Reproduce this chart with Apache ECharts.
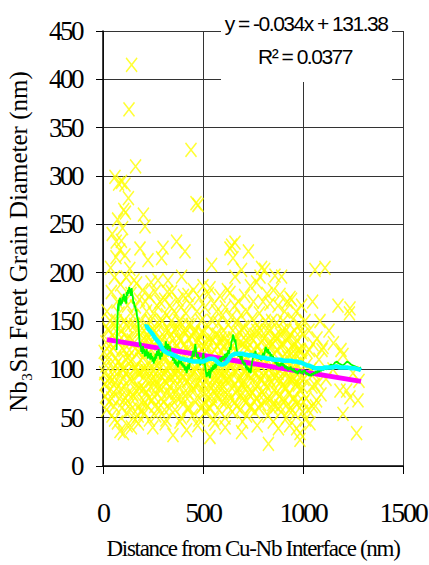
<!DOCTYPE html>
<html>
<head>
<meta charset="utf-8">
<script src="https://cdn.jsdelivr.net/npm/echarts@6/dist/echarts.min.js"></script>
<style>
  html, body { margin: 0; padding: 0; background: #fff; }
  #chart { width: 429px; height: 565px; }
  /* tight, condensed lettering for every label */
  #chart text { letter-spacing: -1.5px; }
  #chart text[style*="28px"] { letter-spacing: -2.2px; }
  #chart text[style*="27px"] { letter-spacing: -2.5px; }
  #chart text[style*="23px"] { letter-spacing: -1.3px; }
  #chart text[style*="25px"] { letter-spacing: 0px; }
</style>
</head>
<body>
<div id="chart"></div>
<script>
// Axis ranges (nm)
const xAxisMin = 0, xAxisMax = 1500, xAxisStep = 500;
const yAxisMin = 0, yAxisMax = 450, yAxisStep = 50;

// Linear fit of grain size vs. distance
const trendSlope = -0.034;
const trendIntercept = 131.38;
const trendR2 = 0.0377;
const trendRange = [20, 1290];

// Individual grains: [distance from interface (nm), Feret diameter (nm)]
const grainPoints = [
  [8,96],[12,72],[15,128],[18,58],[22,110],[25,142],[10,85],[20,160],
  [30,66],[33,118],[36,150],[40,88],[42,180],[45,52],[48,135],[50,100],[38,205],[46,240],[32,78],
  [55,62],[57,195],[60,299],[62,145],[64,112],[66,232],[68,80],[70,170],[72,45],[74,128],[58,92],[73,255],[65,216],
  [78,292],[80,158],[82,70],[84,223],[86,104],[88,188],[90,140],[92,233],[94,60],[96,122],[98,246],[100,90],[85,36],[99,175],[93,294],
  [102,34],[104,265],[106,150],[108,82],[110,218],[112,262],[114,110],[116,195],[118,55],[120,132],[122,166],[124,98],[110,291],[125,75],
  [127,277],[130,369],[132,120],[134,204],[136,64],[138,146],[140,178],[143,415],[145,88],[147,110],[150,155],[142,40],
  [152,72],[155,192],[157,128],[160,48],[163,310],[165,102],[168,189],[170,140],[172,84],[175,60],[162,165],
  [177,44],[180,118],[182,172],[185,225],[187,96],[190,150],[192,66],[195,130],[198,182],[200,80],[188,110],
  [202,260],[204,54],[206,140],[208,100],[210,248],[212,170],[214,76],[216,120],[218,160],[220,90],[222,62],[225,213],
  [227,132],[230,176],[232,48],[234,106],[236,150],[238,82],[240,190],[242,120],[245,68],[247,142],[250,98],
  [252,158],[255,72],[257,125],[260,180],[262,90],[264,52],[266,138],[268,110],[270,166],[272,84],[275,192],
  [278,60],[280,146],[282,100],[285,170],[287,78],[290,128],[293,215],[295,92],[297,150],[300,226],[299,116],
  [302,66],[305,134],[308,172],[310,88],[312,112],[315,48],[318,156],[320,100],[322,180],[325,192],[324,76],
  [327,140],[330,92],[332,60],[335,166],[337,118],[340,74],[342,150],[343,180],[345,104],[348,130],[350,32],
  [352,86],[355,160],[358,112],[360,58],[362,142],[365,96],[368,232],[370,124],[372,70],[375,172],
  [377,104],[380,150],[382,82],[385,46],[387,130],[390,164],[393,196],[395,92],[398,118],[400,64],
  [402,176],[405,140],[408,100],[410,222],[412,72],[415,158],[418,37],[420,120],[422,88],[425,177],
  [427,132],[430,60],[432,106],[435,168],[437,84],[440,327],[442,146],[445,96],[447,52],[450,124],
  [452,182],[455,78],[457,112],[460,140],[462,66],[465,272],[467,100],[470,160],[472,86],[475,270],
  [477,130],[480,48],[482,174],[485,108],[487,76],[490,150],[492,94],[495,120],[498,62],[500,186],
  [502,138],[505,84],[508,102],[510,164],[512,56],[515,126],[518,90],[520,146],[522,70],[525,112],
  [527,178],[530,96],[532,60],[535,184],[535,30],[537,132],[540,80],[543,208],[545,116],[548,150],[550,66],
  [552,102],[555,168],[558,86],[560,44],[562,136],[565,110],[568,160],[570,74],[572,124],[575,92],
  [577,148],[580,58],[582,104],[585,176],[587,82],[590,132],[592,118],[595,66],[598,156],[600,96],
  [602,140],[605,74],[608,112],[610,50],[612,164],[615,88],[618,128],[620,100],[622,182],[625,62],
  [627,146],[630,92],[632,116],[635,179],[635,225],[637,70],[640,154],[643,228],[645,104],[647,56],[650,215],
  [652,132],[655,84],[658,166],[660,196],[660,231],[662,98],[665,120],[668,62],[670,150],[672,78],[675,108],
  [677,170],[680,90],[682,138],[685,58],[687,112],[690,156],[693,203],[693,35],[695,76],[698,126],[700,98],
  [702,144],[705,68],[708,176],[710,110],[712,84],[715,130],[718,52],[720,160],[722,96],[725,122],
  [727,222],[730,74],[732,140],[735,104],[737,186],[740,62],[742,118],[745,152],[747,88],[750,130],
  [752,170],[755,96],[758,56],[760,136],[762,80],[765,112],[768,190],[770,70],[772,146],[775,100],
  [777,124],[780,60],[782,158],[785,196],[787,90],[790,140],[793,205],[795,76],[798,116],[800,170],
  [802,94],[805,132],[808,203],[810,66],[812,150],[815,108],[818,82],[820,178],[822,120],[825,52],[827,23],
  [830,140],[833,90],[835,168],[838,70],[840,112],[843,150],[845,60],[848,126],[850,98],
  [852,182],[855,78],[858,134],[860,197],[862,104],[865,62],[868,148],[870,88],[872,120],[875,166],[877,39],
  [880,100],[883,72],[885,177],[888,136],[890,56],[893,196],[895,112],[898,84],[900,150],
  [902,126],[905,66],[908,160],[910,98],[912,80],[915,140],[918,50],[920,118],[922,170],[925,90],
  [928,134],[930,74],[935,174],[938,106],[940,60],[943,172],[945,124],[948,88],[950,152],
  [952,100],[955,70],[958,140],[960,54],[962,116],[965,160],[968,39],[968,86],[970,130],[975,104],
  [978,66],[980,146],[982,92],[985,34],[985,27],[987,120],[990,78],[993,166],[995,108],[998,56],[1000,136],
  [1005,90],[1010,150],[1015,70],[1020,118],[1025,58],[1030,140],[1035,44],[1040,100],[1045,82],[1050,126],[1048,170],
  [1055,96],[1060,203],[1062,62],[1068,68],[1070,132],[1075,86],[1080,110],[1085,150],[1090,74],[1095,120],[1100,123],
  [1110,205],[1115,90],[1130,140],[1150,100],[1152,127],[1175,166],[1185,78],[1190,120],[1200,115],[1200,54],
  [1218,78],[1232,158],[1235,163],[1235,71],[1250,96],[1268,34],[1275,68],[1280,88],
  [15,104],[28,140],[35,92],[44,70],[52,122],[60,86],[67,150],[76,108],[83,130],[91,80],[97,100],
  [105,120],[113,70],[119,145],[126,112],[133,90],[139,58],[146,130],[153,100],[158,146],[166,78],
  [173,118],[179,96],[186,140],[193,58],[199,112],[205,80],[211,130],[217,98],[223,145],[229,70],
  [235,126],[241,88],[248,112],[254,140],[259,62],[265,96],[271,130],[276,106],[283,82],[288,152],
  [294,120],[301,96],[307,58],[313,140],[319,124],[326,104],[333,82],[339,136],[346,92],[353,120],
  [359,140],[364,76],[371,100],[378,132],[384,108],[391,72],[397,146],[403,92],[409,126],[416,104],
  [423,60],[429,146],[436,116],[443,78],[449,100],[456,138],[463,120],[469,84],[476,104],[483,136],
  [489,60],[496,96],[503,124],[509,76],[516,106],[523,132],[529,84],[536,60],[542,100],[549,130],
  [556,120],[563,80],[569,98],[576,70],[583,128],[589,86],[596,110],[603,92],[609,132],[616,68],
  [623,106],[629,76],[636,126],[642,90],[649,140],[656,108],[663,76],[669,130],[676,88],[683,104],
  [689,72],[696,140],[703,88],[709,124],[716,66],[723,110],[729,94],[736,60],[743,100],[749,76],
  [756,120],[763,96],[769,140],[776,84],[783,106],[789,64],[796,130],[803,110],[809,86],[816,140],
  [823,70],[829,100],[836,124],[843,86],[849,64],[856,116],[863,134],[869,76],[876,96],[883,124],
  [889,88],[896,140],[903,70],[909,110],[916,96],[923,130],[929,58],[936,90],[943,116],[949,70],
  [956,124],[963,84],[969,64],[976,120],[983,98],[989,140],[996,82],
  [6,118],[24,88],[39,126],[53,76],[63,104],[79,136],[89,96],[103,68],[115,96],[128,132],[137,108],
  [149,74],[161,122],[171,98],[183,80],[196,100],[209,66],[219,136],[231,98],[244,128],[256,84],
  [269,104],[281,120],[292,70],[304,112],[316,86],[328,124],[338,102],[349,68],[361,94],[373,144],
  [386,88],[399,104],[411,138],[421,76],[433,90],[446,134],[458,98],[471,128],[484,88],[494,138],
  [506,64],[519,120],[531,102],[544,72],[557,92],[571,136],[584,98],[597,80],[606,124],[619,90],
  [633,104],[646,124],[659,66],[673,100],[686,128],[699,84],[711,98],[724,76],[738,134],[751,104],
  [764,70],[778,92],[791,118],[804,74],[817,96],[831,128],[844,104],[857,92],[871,132],[884,62],
  [897,102],[911,82],[924,112],[937,136],[951,92],[964,106],[977,84],[991,118],[1003,66],[1017,104],
  [1032,120],[1046,62],[1058,84],
  [58,48],[121,42],[176,52],[249,40],[311,44],[392,50],[474,42],[553,48],[611,40],[698,46],
  [771,42],[851,46],[933,42],[1012,48]
];

// Short-window running average (green)
const shortAverage = [
  [68,120],[70,135],[72,150],[74,162],[76,168],[78,160],[80,172],[83,170],[86,174],[89,166],[92,171],[95,168],
  [98,175],[101,172],[104,178],[107,170],[110,173],[113,176],[116,168],[119,180],[122,176],[125,182],[128,178],
  [131,185],[134,180],[137,183],[140,176],[143,184],[146,178],[149,175],[152,168],[155,170],[158,164],[161,166],
  [164,160],[167,162],[170,155],[173,152],[176,150],[179,140],[182,130],[185,124],[188,128],[191,118],[194,122],
  [197,116],[200,124],[203,118],[206,121],[209,113],[212,119],[215,114],[218,121],[221,116],[224,111],[227,118],
  [230,112],[233,116],[236,110],[239,117],[242,111],[245,114],[248,108],[251,112],[254,106],[257,113],[260,109],
  [263,116],[266,111],[270,119],[274,114],[278,121],[282,115],[286,110],[290,117],[294,113],[298,120],[302,118],
  [306,124],[310,121],[314,129],[318,125],[322,120],[326,126],[330,121],[334,124],[338,117],[342,112],[346,116],
  [350,109],[354,113],[358,106],[362,110],[366,104],[370,108],[374,102],[378,107],[382,111],[386,106],[390,109],
  [394,104],[398,107],[402,102],[406,105],[410,99],[414,103],[418,96],[422,101],[426,105],[430,100],[434,108],
  [438,112],[442,107],[446,114],[450,119],[454,113],[458,121],[462,126],[466,118],[470,112],[474,116],[478,109],
  [482,113],[486,104],[490,110],[494,106],[498,112],[502,117],[506,111],[510,104],[514,98],[518,92],[522,97],
  [526,93],[530,99],[534,91],[538,96],[542,102],[546,98],[550,104],[554,100],[558,106],[562,101],[566,103],
  [570,108],[574,104],[578,110],[582,106],[586,112],[590,107],[594,113],[598,109],[602,114],[606,110],[610,116],
  [614,112],[618,117],[622,113],[626,120],[630,116],[634,123],[638,120],[642,128],[646,131],[650,136],[654,133],
  [658,128],[662,131],[666,123],[670,119],[674,116],[678,113],[682,117],[686,112],[690,110],[694,114],[698,106],
  [702,109],[706,104],[710,107],[714,101],[718,104],[722,99],[726,102],[730,97],[734,101],[738,96],[742,103],
  [746,108],[750,112],[754,117],[758,114],[762,119],[766,113],[770,116],[774,111],[778,114],[782,110],[786,113],
  [790,109],[794,112],[798,115],[802,117],[806,113],[810,120],[814,123],[818,120],[822,117],[826,121],[830,116],
  [834,118],[838,113],[842,116],[846,111],[850,114],[854,109],[858,112],[862,106],[866,109],[870,104],[874,107],
  [878,103],[882,106],[886,103],[890,107],[894,104],[898,107],[902,103],[906,105],[910,101],[914,104],[918,100],
  [922,103],[926,99],[930,102],[934,100],[938,103],[942,99],[946,101],[950,98],[954,101],[958,97],[962,99],
  [966,96],[970,98],[974,95],[978,99],[982,97],[986,100],[990,96],[994,98],[998,95],[1002,99],[1006,97],
  [1010,99],[1014,95],[1018,97],[1022,94],[1026,96],[1030,93],[1035,95],[1040,93],[1045,96],[1050,94],[1055,97],
  [1060,95],[1065,98],[1070,96],[1075,99],[1080,97],[1085,100],[1090,98],[1095,101],[1100,99],[1110,101],
  [1120,100],[1130,103],[1140,105],[1150,104],[1160,107],[1170,108],[1180,106],[1190,105],[1200,104],[1210,106],
  [1220,108],[1230,107],[1240,105],[1250,104],[1260,103],[1270,102],[1280,101],[1290,102]
];

// Long-window running average (cyan)
const longAverage = [
  [210,144],[218,145],[226,142],[234,140],[242,138],[250,136],[258,133],[266,131],[274,129],[282,127],[290,124],
  [298,121],[306,119],[314,118],[322,117],[330,116],[340,116],[350,115],[360,114],[370,113],[380,112],[390,111],
  [400,111],[410,110],[420,110],[430,109],[440,109],[450,108],[460,108],[470,108],[480,108],[490,108],[500,108],
  [510,109],[520,110],[530,111],[540,111],[550,111],[560,110],[570,108],[580,106],[590,105],[600,105],[610,106],
  [620,108],[630,111],[640,114],[650,115],[660,116],[670,116],[680,116],[690,116],[700,116],[710,115],[720,115],
  [730,114],[740,115],[750,114],[760,114],[770,113],[780,113],[790,112],[800,112],[810,112],[820,111],[830,111],
  [840,111],[850,110],[860,110],[870,110],[880,110],[890,110],[900,109],[910,109],[920,109],[930,109],[940,109],
  [950,108],[960,108],[970,108],[980,107],[990,107],[1000,106],[1010,105],[1020,104],[1030,104],[1040,103],
  [1050,102],[1060,101],[1070,101],[1080,101],[1090,101],[1100,101],[1110,102],[1120,102],[1130,102],[1140,102],
  [1150,102],[1160,103],[1170,103],[1180,102],[1190,102],[1200,102],[1220,102],[1240,101],[1260,101],[1280,100],
  [1290,99]
];

const serif = 'Liberation Serif';
const sans = 'Liberation Sans';

const trendLine = trendRange.map(x => [x, trendIntercept + trendSlope * x]);
const equationText = 'y = ' + trendSlope + 'x + ' + trendIntercept;
const r2Text = 'R\u00B2 = ' + trendR2;

const chart = echarts.init(document.getElementById('chart'), null, {
  renderer: 'svg', width: 429, height: 565
});

chart.setOption({
  animation: false,
  backgroundColor: '#ffffff',
  textStyle: { fontFamily: serif, color: '#000' },
  grid: { left: 103, top: 31, width: 300, height: 435, containLabel: false, outerBoundsMode: 'none' },
  xAxis: {
    type: 'value',
    min: xAxisMin, max: xAxisMax, interval: xAxisStep,
    name: 'Distance from Cu-Nb Interface (nm)',
    nameLocation: 'middle',
    nameGap: 71,
    nameTextStyle: { fontFamily: serif, fontSize: 23, color: '#000' },
    axisLine: { lineStyle: { color: '#000', width: 1.5 } },
    axisTick: { show: true, length: 8, lineStyle: { color: '#000', width: 1 } },
    axisLabel: { fontFamily: serif, fontSize: 28, color: '#000', margin: 32, formatter: v => String(v) },
    splitLine: { show: true, lineStyle: { color: '#333', width: 1 } }
  },
  yAxis: {
    type: 'value',
    min: yAxisMin, max: yAxisMax, interval: yAxisStep,
    name: 'Nb\u2083Sn Feret Grain Diameter (nm)',
    nameLocation: 'middle',
    nameRotate: 90,
    nameGap: 60,
    nameTextStyle: { fontFamily: serif, fontSize: 25, color: '#000', padding: [0, 0, 0, 14] },
    axisLine: { show: true, lineStyle: { color: '#000', width: 1.5 } },
    axisTick: { show: true, length: 7, lineStyle: { color: '#000', width: 1 } },
    axisLabel: { fontFamily: serif, fontSize: 27, color: '#000', margin: 21, formatter: v => String(v) },
    splitLine: { show: true, lineStyle: { color: '#333', width: 1 } }
  },
  graphic: [
    { type: 'rect', z: 100, silent: true, shape: { x: 221, y: 0, width: 171, height: 82 }, style: { fill: '#ffffff' } },
    { type: 'text', z: 101, silent: true, x: 306, y: 23,
      style: { text: equationText, font: '21px ' + sans, fill: '#000', align: 'center', verticalAlign: 'middle', textAlign: 'center', textVerticalAlign: 'middle' } },
    { type: 'text', z: 101, silent: true, x: 305, y: 56,
      style: { text: r2Text, font: '21px ' + sans, fill: '#000', align: 'center', verticalAlign: 'middle', textAlign: 'center', textVerticalAlign: 'middle' } }
  ],
  series: [
    {
      type: 'scatter',
      data: grainPoints,
      symbol: 'path://M0,0L10,12M10,0L0,12',
      symbolSize: [11, 14],
      itemStyle: { color: '#ffff00', borderColor: '#ffff00', borderWidth: 1.6 },
      silent: true,
      z: 2
    },
    {
      type: 'line',
      data: trendLine,
      showSymbol: false,
      lineStyle: { color: '#ff00ff', width: 5 },
      silent: true,
      z: 3
    },
    {
      type: 'line',
      data: shortAverage,
      showSymbol: false,
      lineStyle: { color: '#00ff00', width: 1.8 },
      silent: true,
      z: 4
    },
    {
      type: 'line',
      data: longAverage,
      showSymbol: false,
      lineStyle: { color: '#00ffff', width: 4.5 },
      silent: true,
      z: 5
    }
  ]
});
</script>
</body>
</html>
